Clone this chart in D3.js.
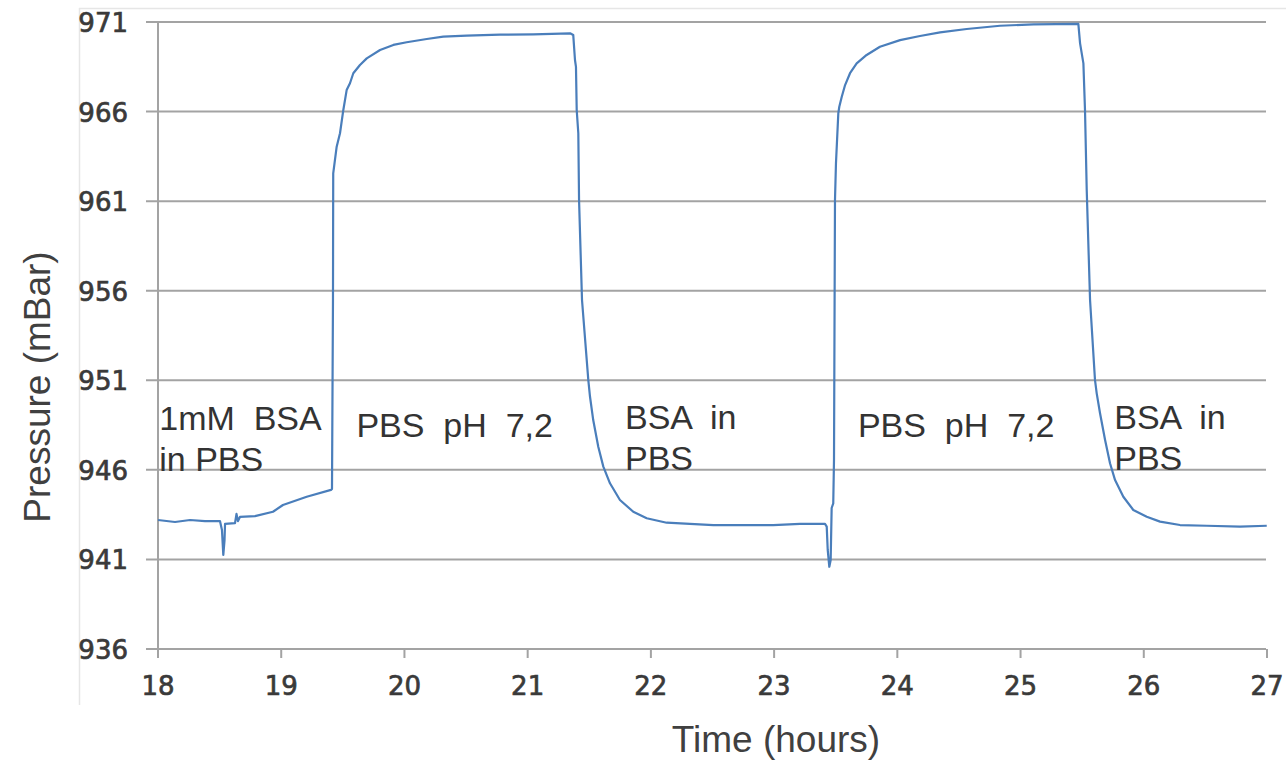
<!DOCTYPE html>
<html>
<head>
<meta charset="utf-8">
<script src="https://cdn.jsdelivr.net/npm/d3@7/dist/d3.min.js"></script>
<style>
html,body{margin:0;padding:0;background:#fff;}
svg{display:block;}
</style>
</head>
<body>
<svg id="chart" width="1286" height="763"></svg>
<script>
// ---- data ----
const timeHours = [18.000,18.138,18.26,18.381,18.503,18.519,18.530,18.540,18.544,18.625,18.637,18.649,18.665,18.787,18.933,19.014,19.207,19.404,19.412,19.42,19.422,19.450,19.477,19.504,19.531,19.558,19.585,19.639,19.694,19.802,19.910,20.018,20.181,20.315,20.505,20.776,21.046,21.344,21.370,21.384,21.392,21.398,21.411,21.417,21.441,21.492,21.506,21.532,21.573,21.614,21.668,21.749,21.857,21.966,22.128,22.317,22.507,22.723,22.993,23.210,23.413,23.427,23.435,23.448,23.459,23.467,23.480,23.486,23.494,23.502,23.521,23.529,23.549,23.576,23.616,23.670,23.751,23.859,24.022,24.184,24.347,24.563,24.833,25.104,25.469,25.483,25.510,25.523,25.537,25.564,25.604,25.618,25.645,25.686,25.726,25.767,25.834,25.915,26.024,26.132,26.294,26.511,26.781,26.998];
const pressure = [943.20,943.09,943.20,943.14,943.14,942.64,941.25,942.08,942.98,943.03,943.54,943.14,943.37,943.42,943.66,944.04,944.50,944.88,944.93,955.48,962.55,964.04,964.79,966.09,967.20,967.58,968.14,968.60,968.97,969.44,969.72,969.87,970.05,970.18,970.24,970.29,970.31,970.37,970.27,968.88,968.50,966.09,964.79,961.06,955.48,951.02,950.08,948.78,947.29,946.18,945.25,944.32,943.66,943.30,943.05,942.98,942.91,942.91,942.91,942.98,942.98,942.83,941.53,940.59,940.97,943.87,944.13,946.55,961.06,963.11,965.90,966.27,966.83,967.48,968.14,968.69,969.16,969.62,969.99,970.22,970.42,970.61,970.79,970.87,970.89,969.81,968.69,966.09,961.62,955.48,951.02,950.27,949.16,947.67,946.37,945.43,944.50,943.76,943.38,943.11,942.92,942.88,942.83,942.88];
const yTicks = [936,941,946,951,956,961,966,971];
const xTicks = [18,19,20,21,22,23,24,25,26,27];
const annotations = [
  {t:18.01, p:948.22, lines:["1mM  BSA","in PBS"]},
  {t:19.61, p:947.83, lines:["PBS  pH  7,2"]},
  {t:21.79, p:948.28, lines:["BSA  in","PBS"]},
  {t:23.68, p:947.83, lines:["PBS  pH  7,2"]},
  {t:25.76, p:948.28, lines:["BSA  in","PBS"]}
];
const xTitle = "Time (hours)";
const yTitle = "Pressure (mBar)";

// ---- drawing ----
const svg = d3.select("#chart");
const x = d3.scaleLinear().domain([18,27]).range([158,1267]);
const y = d3.scaleLinear().domain([936,971]).range([649,22]);

// outer faint frame
svg.append("line").attr("x1",79).attr("x2",1290).attr("y1",8.5).attr("y2",8.5)
  .attr("stroke","#e6e6e6").attr("stroke-width",1.5);
svg.append("line").attr("x1",79.5).attr("x2",79.5).attr("y1",8).attr("y2",705)
  .attr("stroke","#e6e6e6").attr("stroke-width",1.5);

const gridColor = "#a3a3a3";
// gridlines (with left tick stubs)
svg.append("g").selectAll("line").data(yTicks).join("line")
  .attr("x1",146).attr("x2",1266)
  .attr("y1",d=>y(d)).attr("y2",d=>y(d))
  .attr("stroke",gridColor).attr("stroke-width",2);

// y axis line
svg.append("line").attr("x1",158).attr("x2",158).attr("y1",y(971)).attr("y2",y(936)+1)
  .attr("stroke",gridColor).attr("stroke-width",2);

// x ticks
svg.append("g").selectAll("line").data(xTicks).join("line")
  .attr("x1",d=>x(d)).attr("x2",d=>x(d)).attr("y1",y(936)).attr("y2",y(936)+9)
  .attr("stroke",gridColor).attr("stroke-width",2);

const tickFont = {family:"'DejaVu Sans', sans-serif", size:"26px", fill:"#3a3a3a"};
svg.append("g").selectAll("text").data(yTicks).join("text")
  .attr("x",128).attr("y",d=>y(d)+10)
  .attr("text-anchor","end")
  .attr("font-family",tickFont.family).attr("font-size",tickFont.size)
  .attr("fill",tickFont.fill).attr("stroke",tickFont.fill).attr("stroke-width",0.7)
  .text(d=>d);
svg.append("g").selectAll("text").data(xTicks).join("text")
  .attr("x",d=>x(d)).attr("y",695)
  .attr("text-anchor","middle")
  .attr("font-family",tickFont.family).attr("font-size",tickFont.size)
  .attr("fill",tickFont.fill).attr("stroke",tickFont.fill).attr("stroke-width",0.7)
  .text(d=>d);

// data line
const pts = timeHours.map((t,i)=>[t,pressure[i]]);
svg.append("path").datum(pts)
  .attr("d", d3.line().x(d=>x(d[0])).y(d=>y(d[1])))
  .attr("fill","none").attr("stroke","#4a7ebb").attr("stroke-width",2.2)
  .attr("stroke-linejoin","round");

// annotations
const annFont = "'Liberation Sans', Arial, sans-serif";
annotations.forEach(a=>{
  const txt = svg.append("text")
    .attr("font-family",annFont).attr("font-size","34px").attr("fill","#333");
  a.lines.forEach((l,i)=>{
    txt.append("tspan").attr("x",x(a.t)).attr("y",y(a.p)+i*41)
      .attr("xml:space","preserve").style("white-space","pre").text(l);
  });
});

// axis titles
svg.append("text").attr("x",776).attr("y",752).attr("text-anchor","middle")
  .attr("font-family",annFont).attr("font-size","37px").attr("fill","#404040")
  .text(xTitle);
svg.append("text").attr("transform","translate(50,387) rotate(-90)")
  .attr("text-anchor","middle")
  .attr("font-family",annFont).attr("font-size","37px").attr("fill","#404040")
  .text(yTitle);
</script>
</body>
</html>
